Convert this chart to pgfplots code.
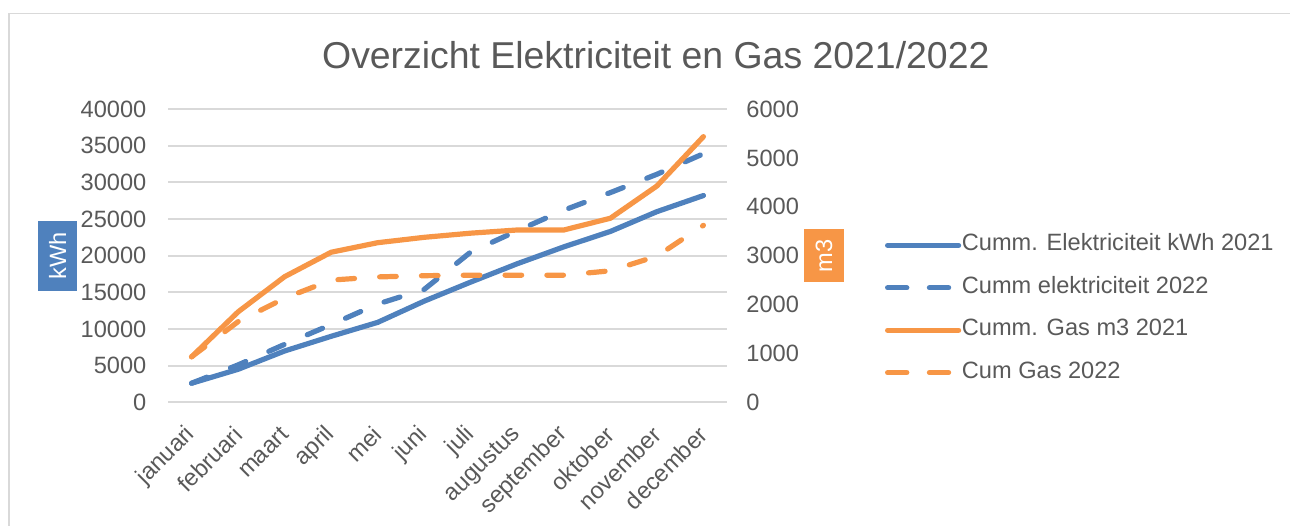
\documentclass[border=0pt]{standalone}
\usepackage{fontspec}
\setmainfont{Liberation Sans}
\usepackage{pgfplots}
\pgfplotsset{compat=1.18}
\definecolor{eblue}{HTML}{4F81BD}
\definecolor{gorange}{HTML}{F79646}
\definecolor{txtgray}{HTML}{595959}
\definecolor{gridgray}{HTML}{D9D9D9}
\pgfplotsset{
  base/.style={scale only axis, width=279.2pt, height=146.65pt,
    at={(84.15pt,61.35pt)}, anchor=south west,
    xmin=-0.5, xmax=11.5, ymin=0,
    axis line style={draw=none}, tick style={draw=none},
    scaled y ticks=false,
    ticklabel style={font=\fontsize{11.8}{14}\selectfont, text=txtgray},
    /pgf/number format/assume math mode=true,
    /pgf/number format/1000 sep={}},
  series/.style={line width=2.6pt, line cap=round, line join=round},
  dsh/.style={dash pattern=on 8.3pt off 12.6pt},
  legimg/.style={legend image code/.code={
      \path (0pt,0pt) rectangle (35.5pt,0pt);
      \draw[##1] (1.3pt,0pt) -- (34.2pt,0pt);}},
}
\begin{document}
\begin{tikzpicture}[x=1pt,y=1pt]
\useasboundingbox (0,0) rectangle (645,262.5);
\draw[gridgray, line width=0.75pt] (4.5,-2) -- (4.5,255.85) -- (648,255.85);
\node[txtgray, font=\fontsize{18.7}{22}\selectfont, anchor=base, inner sep=0pt] at (327.9,228.35) {Overzicht Elektriciteit en Gas 2021/2022};

\begin{axis}[base, ymax=40000, ytick={0,5000,...,40000},
  ymajorgrids, grid style={gridgray, line width=1pt},
  xtick={0,...,11},
  xticklabels={januari,februari,maart,april,mei,juni,juli,augustus,september,oktober,november,december},
  xticklabel style={yshift=-14.2pt, rotate=45, anchor=east, inner sep=0pt},
  yticklabel style={anchor=east, inner sep=0pt, xshift=-10.8pt},
  ylabel={kWh},
  ylabel style={at={(axis description cs:-0.1984,0.5)}, anchor=center, rotate=0,
    fill=eblue, text=white, inner sep=0pt, minimum width=34.85pt, minimum height=19.2pt,
    font=\fontsize{11.8}{14}\selectfont},
]
\addplot[series, eblue] coordinates {(0,2600) (1,4500) (2,7000) (3,9000) (4,10900) (5,13800) (6,16400) (7,18900) (8,21200) (9,23300) (10,26000) (11,28200)};
\addplot[series, dsh, eblue] coordinates {(0,2600) (1,5100) (2,7900) (3,10600) (4,13400) (5,15400) (6,20500) (7,23400) (8,26200) (9,28600) (10,31100) (11,33900)};
\end{axis}

\begin{axis}[base, ymax=6000, ytick={0,1000,...,6000},
  hide x axis,
  yticklabel pos=right,
  yticklabel style={anchor=west, inner sep=0pt, xshift=9.65pt},
  ylabel={m3}, ylabel near ticks,
  ylabel style={at={(axis description cs:1.1743,0.5)}, anchor=center, rotate=0,
    fill=gorange, text=white, inner sep=0pt, minimum width=26.65pt, minimum height=20pt,
    font=\fontsize{11.8}{14}\selectfont},
  legend style={at={(axis description cs:1.2835,0.318)}, anchor=west,
    draw=none, fill=none, inner sep=0pt, outer sep=0pt,
    font=\fontsize{11.8}{14}\selectfont, text=txtgray,
    row sep=10.7pt, column sep=0.35pt,
    nodes={inner sep=0pt, text height=8pt, text depth=2.5pt}},
  legend cell align=left,
  legimg,
]
\addlegendimage{series, eblue}
\addlegendentry{Cumm. Elektriciteit kWh 2021}
\addlegendimage{series, dsh, eblue}
\addlegendentry{Cumm elektriciteit 2022}
\addplot[series, gorange] coordinates {(0,930) (1,1850) (2,2570) (3,3070) (4,3265) (5,3375) (6,3460) (7,3525) (8,3525) (9,3765) (10,4425) (11,5435)};
\addlegendentry{Cumm. Gas m3 2021}
\addplot[series, dsh, gorange] coordinates {(0,930) (1,1650) (2,2130) (3,2500) (4,2565) (5,2590) (6,2600) (7,2600) (8,2600) (9,2690) (10,2990) (11,3620)};
\addlegendentry{Cum Gas 2022}
\end{axis}
\end{tikzpicture}
\end{document}
